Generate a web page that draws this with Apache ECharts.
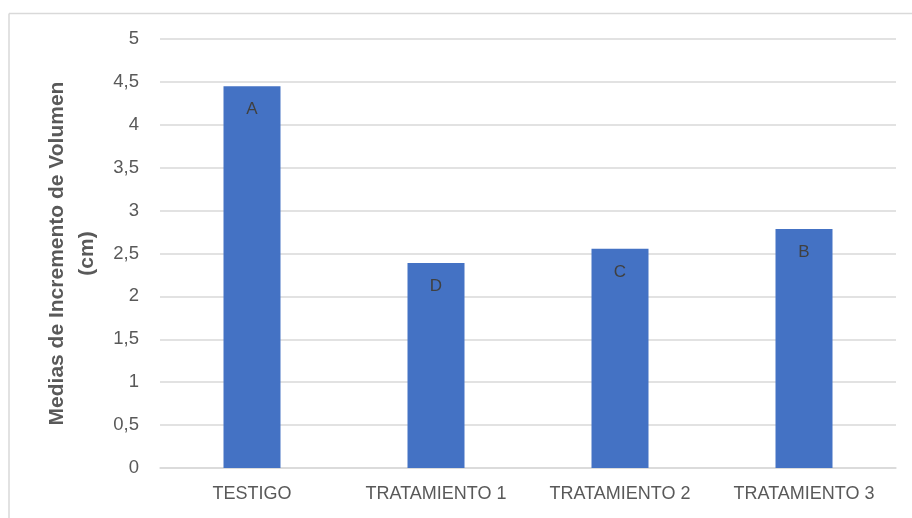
<!DOCTYPE html>
<html>
<head>
<meta charset="utf-8">
<style>
  html, body { margin: 0; padding: 0; background: #fff; }
  #chart { width: 912px; height: 518px; }
</style>
<script src="https://cdn.jsdelivr.net/npm/echarts@6/dist/echarts.min.js"></script>
</head>
<body>
<div id="chart"></div>
<script>
  // data
  const categories = ["TESTIGO", "TRATAMIENTO 1", "TRATAMIENTO 2", "TRATAMIENTO 3"];
  const means = [4.45, 2.39, 2.555, 2.785];
  const letters = ["A", "D", "C", "B"];
  const yTitle = "Medias de Incremento de Volumen\n(cm)";

  const FONT = "'Liberation Sans', Arial, sans-serif";
  const chart = echarts.init(document.getElementById("chart"), null, { renderer: "canvas" });

  chart.setOption({
    animation: false,
    textStyle: { fontFamily: FONT },
    graphic: [
      { type: "line", shape: { x1: 9, y1: 13.5, x2: 912, y2: 13.5 }, style: { stroke: "#d9d9d9", lineWidth: 1.5 } },
      { type: "line", shape: { x1: 9, y1: 13.5, x2: 9, y2: 518 }, style: { stroke: "#d9d9d9", lineWidth: 1.5 } },
    ],
    grid: { left: 160, right: 16, top: 39, bottom: 50 },
    xAxis: {
      type: "category",
      data: categories,
      axisTick: { show: false },
      axisLine: { lineStyle: { color: "#d9d9d9", width: 1.5 } },
      axisLabel: { color: "#595959", fontSize: 18, margin: 17, fontFamily: FONT, interval: 0, hideOverlap: false },
    },
    yAxis: {
      type: "value",
      min: 0, max: 5, interval: 0.5,
      name: yTitle,
      nameLocation: "middle",
      nameGap: 52,
      nameTextStyle: { color: "#595959", fontSize: 21, fontWeight: "bold", lineHeight: 30, fontFamily: FONT },
      axisLabel: { color: "#595959", fontSize: 18.5, margin: 21, fontFamily: FONT,
        formatter: (v) => String(v).replace(".", ",") },
      splitLine: { lineStyle: { color: "#d9d9d9", width: 1.5 } },
    },
    series: [{
      type: "bar",
      data: means,
      barWidth: 57,
      itemStyle: { color: "#4472C4" },
      label: {
        show: true,
        position: "insideTop",
        distance: 15,
        color: "#404040",
        fontSize: 17,
        fontFamily: FONT,
        formatter: (p) => letters[p.dataIndex],
      },
    }],
  });
</script>
</body>
</html>
